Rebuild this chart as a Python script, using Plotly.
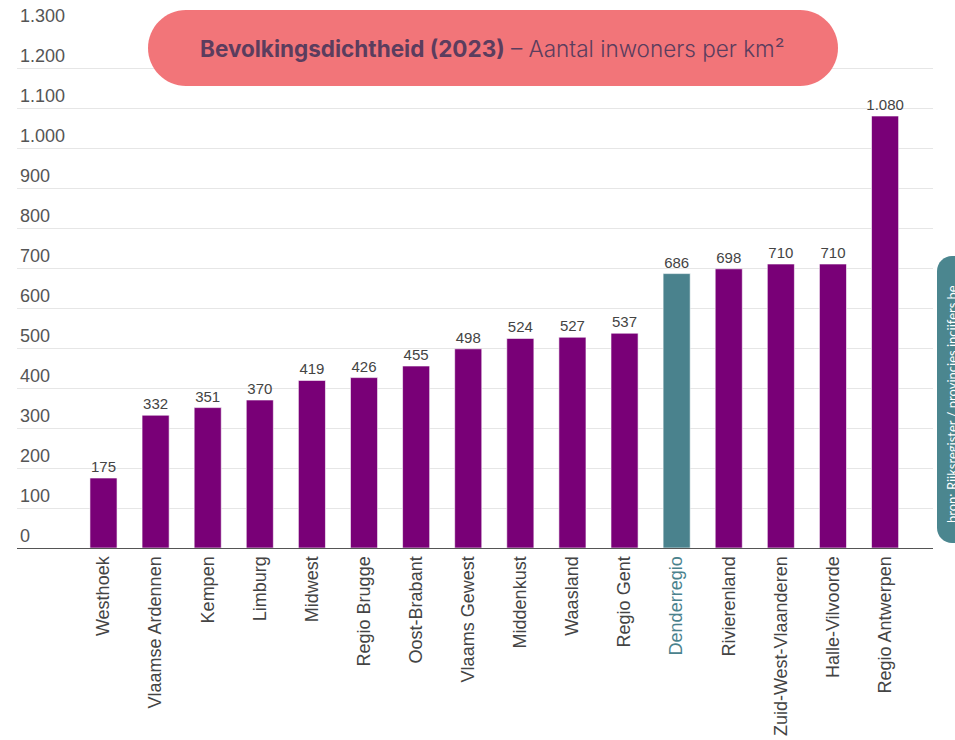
import plotly.graph_objects as go

regions = ["Westhoek", "Vlaamse Ardennen", "Kempen", "Limburg", "Midwest", "Regio Brugge",
           "Oost-Brabant", "Vlaams Gewest", "Middenkust", "Waasland", "Regio Gent",
           "Denderregio", "Rivierenland", "Zuid-West-Vlaanderen", "Halle-Vilvoorde",
           "Regio Antwerpen"]
density = [175, 332, 351, 370, 419, 426, 455, 498, 524, 527, 537, 686, 698, 710, 710, 1080]
highlight = "Denderregio"
y_ticks = [0, 100, 200, 300, 400, 500, 600, 700, 800, 900, 1000, 1100, 1200, 1300]

PURPLE = "#790077"
TEAL = "#4a828d"
W, H = 955, 740
L, R, T, B = 17, 22, 28, 192
PW, PH = W - L - R, H - T - B


def xp(px):
    return (px - L) / PW


def yp(py):
    return (H - B - py) / PH


def rrect(w, h, r):
    k = 0.5523 * r
    a, b = w / 2, h / 2
    return (f"M {-a + r} {-b} L {a - r} {-b} "
            f"C {a - r + k} {-b} {a} {-b + r - k} {a} {-b + r} "
            f"L {a} {b - r} "
            f"C {a} {b - r + k} {a - r + k} {b} {a - r} {b} "
            f"L {-a + r} {b} "
            f"C {-a + r - k} {b} {-a} {b - r + k} {-a} {b - r} "
            f"L {-a} {-b + r} "
            f"C {-a} {-b + r - k} {-a + r - k} {-b} {-a + r} {-b} Z")


colors = [TEAL if r == highlight else PURPLE for r in regions]
ticktext = [f"<span style='color:{TEAL}'>{r}</span>" if r == highlight else r for r in regions]

fig = go.Figure()
fig.add_trace(go.Bar(
    x=regions, y=density,
    marker=dict(color=colors, line=dict(color="rgba(255,255,255,0.6)", width=1)),
    width=0.52,
    texttemplate="%{y:,}", textposition="outside", constraintext="none",
    textfont=dict(family="Liberation Sans, Arial", size=15, color="#444444"),
    cliponaxis=False, hoverinfo="x+y",
))

fig.update_layout(
    width=W, height=H,
    margin=dict(l=L, r=R, t=T, b=B, pad=0, autoexpand=False),
    paper_bgcolor="white", plot_bgcolor="white",
    separators=",.",
    showlegend=False,
    font=dict(family="Liberation Sans, Arial", color="#444444"),
)
fig.update_xaxes(
    type="category", range=[-1.66, 15.92], automargin=False,
    tickmode="array", tickvals=regions, ticktext=ticktext,
    tickangle=-90, ticks="", ticklen=0,
    tickfont=dict(family="Liberation Sans, Arial", size=18, color="#444444"),
    showline=True, linecolor="#555555", linewidth=1.3,
    showgrid=False, zeroline=False,
)
fig.update_yaxes(
    range=[0, 1300], tickmode="array", tickvals=y_ticks, automargin=False,
    tickformat=",d",
    ticklabelposition="inside top", ticklabeloverflow="allow",
    tickfont=dict(family="Liberation Sans, Arial", size=18, color="#555555"),
    showgrid=True, gridcolor="#e6e6e6", gridwidth=1,
    zeroline=False, showline=False, ticks="",
)

# title pill
fig.add_shape(type="path", xref="paper", yref="paper",
              xsizemode="pixel", ysizemode="pixel",
              xanchor=xp(493), yanchor=yp(48),
              path=rrect(690, 76, 38),
              fillcolor="#f27579", line=dict(width=0), layer="above")
fig.add_annotation(
    xref="paper", yref="paper", x=xp(492), y=yp(49),
    xanchor="center", yanchor="middle", showarrow=False,
    text="<b>Bevolkingsdichtheid (2023)</b> – Aantal inwoners per km²",
    font=dict(family="Inter", size=22.5, color="#5b3d5e", weight=300),
)

# source box
fig.add_shape(type="path", xref="paper", yref="paper",
              xsizemode="pixel", ysizemode="pixel",
              xanchor=xp(957), yanchor=yp(399.5),
              path=rrect(40, 287, 15),
              fillcolor="#4b868f", line=dict(width=0), layer="above")
fig.add_annotation(
    xref="paper", yref="paper", x=xp(952), y=yp(404),
    xanchor="center", yanchor="middle", showarrow=False, textangle=-90,
    text="bron: Rijksregister / provincies incijfers.be",
    font=dict(family="Lato", size=13, color="white"),
)

fig.write_html("out.html", config={"displayModeBar": False},
               post_script="document.body.style.margin='0';document.body.style.overflow='hidden';")
